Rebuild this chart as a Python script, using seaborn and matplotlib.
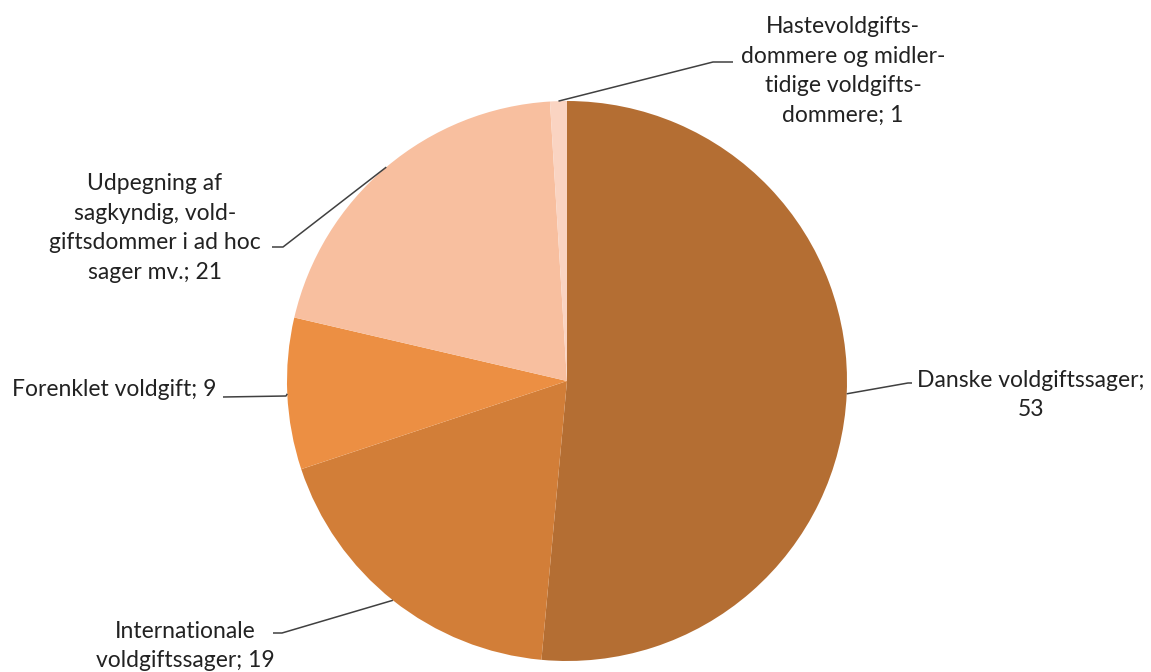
import matplotlib
matplotlib.use("Agg")
import matplotlib.pyplot as plt
import seaborn as sns
import numpy as np

categories = [
    "Danske voldgiftssager;\n53",
    "Internationale\nvoldgiftssager; 19",
    "Forenklet voldgift; 9",
    "Udpegning af\nsagkyndig, vold-\ngiftsdommer i ad hoc\nsager mv.; 21",
    "Hastevoldgifts-\ndommere og midler-\ntidige voldgifts-\ndommere; 1",
]
values = [53, 19, 9, 21, 1]
colors = ["#B46E33", "#D27E38", "#EC8F43", "#F8BF9F", "#FAD4C2"]

sns.set_theme(style="white")
plt.rcParams["font.family"] = ["Lato", "DejaVu Sans"]

W, H = 1151, 672
fig = plt.figure(figsize=(W / 100, H / 100), dpi=100)
ax = fig.add_axes([0, 0, 1, 1])

cx, cy, R = 567, H - 381, 280
wedges, _ = ax.pie(values, colors=colors, startangle=90, counterclock=False,
                   center=(cx, cy), radius=R, frame=True,
                   wedgeprops=dict(linewidth=0))
ax.set_xlim(0, W)
ax.set_ylim(0, H)
ax.set_aspect("equal")
ax.axis("off")

# label layout (pixel coords, top origin): text center, elbow, end of horizontal
layout = [
    dict(text=(1031, 395), elbow=(908, 383), end=(912, 383)),
    dict(text=(185, 646), elbow=(282, 633), end=(273, 633)),
    dict(text=(114, 390), elbow=(286, 396), end=(223, 397)),
    dict(text=(155, 228), elbow=(283, 247), end=(272, 247)),
    dict(text=(843, 71), elbow=(713, 62), end=(733, 62)),
]

total = sum(values)
cum = 0
for lab, v, lay in zip(categories, values, layout):
    mid = cum + v / 2
    cum += v
    ang = np.deg2rad(90 - mid / total * 360)
    px, py = cx + R * np.cos(ang), cy + R * np.sin(ang)
    ex, ey = lay["elbow"]
    fx, fy = lay["end"]
    ax.plot([px, ex, fx], [py, H - ey, H - fy], color="#404040", lw=1.1,
            solid_capstyle="butt")
    tx, ty = lay["text"]
    ax.text(tx, H - ty, lab, ha="center", va="center", fontsize=16.5,
            color="#222222", linespacing=1.52)

fig.savefig("out.png", dpi=100)
